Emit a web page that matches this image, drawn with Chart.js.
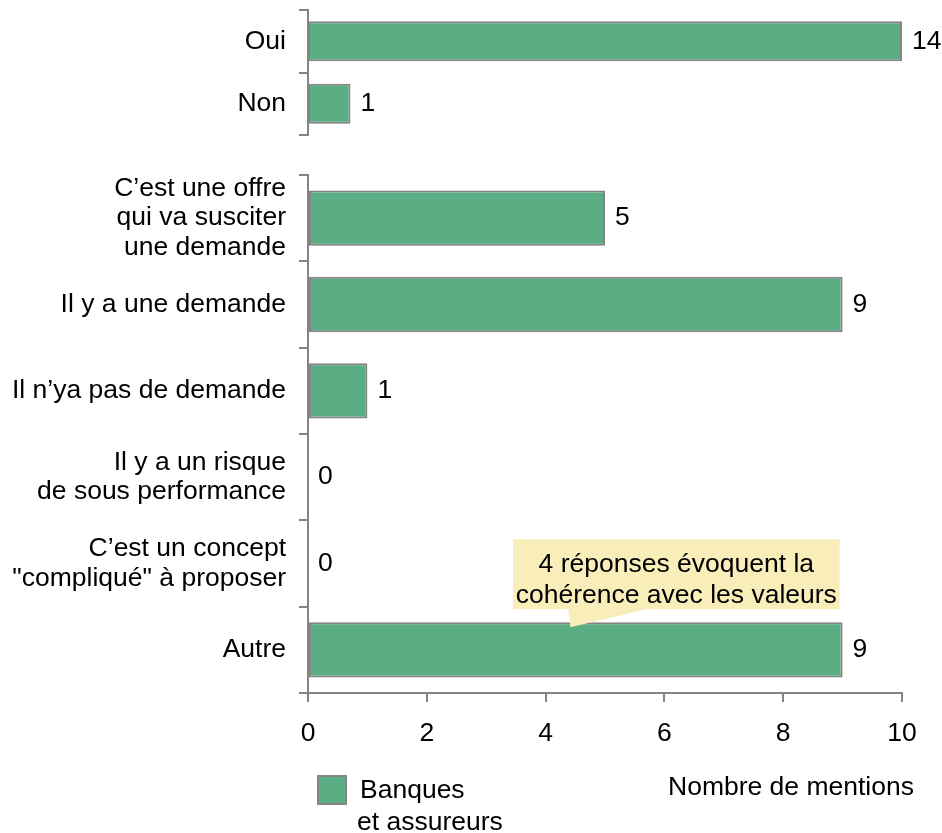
<!DOCTYPE html>
<html>
<head>
<meta charset="utf-8">
<script src="https://cdn.jsdelivr.net/npm/chart.js@4.4.0/dist/chart.umd.min.js"></script>
<style>
  body { margin: 0; background: #fff; }
  #wrap { position: relative; width: 942px; height: 833px; }
  #wrap canvas { position: absolute; left: 0; top: 0; }
</style>
</head>
<body>
<div id="wrap">
  <canvas id="bottomChart" width="942" height="833"></canvas>
  <canvas id="topChart" width="942" height="833"></canvas>
</div>
<script>
// data
var topLabels = ['Oui', 'Non'];
var topValues = [14, 1];
var bottomLabels = [
  ['C’est une offre', 'qui va susciter', 'une demande'],
  'Il y a une demande',
  'Il n’ya pas de demande',
  ['Il y a un risque', 'de sous performance'],
  ['C’est un concept', '"compliqué" à proposer'],
  'Autre'
];
var bottomValues = [5, 9, 1, 0, 0, 9];
var xMin = 0, xMax = 10, xStep = 2;
var seriesName = ['Banques', 'et assureurs'];
var axisTitle = 'Nombre de mentions';
var noteLines = ['4 réponses évoquent la', 'cohérence avec les valeurs'];

var FONT = "'Liberation Sans', Arial, sans-serif";
var FS = 26.5;
var GREEN = '#5BAD83';
var GREY = '#848484';

Chart.defaults.font.family = FONT;
Chart.defaults.font.size = FS;
Chart.defaults.color = '#000';

// value labels at the end of each bar
var valueLabels = {
  id: 'valueLabels',
  afterDatasetsDraw: function(chart) {
    var ctx = chart.ctx;
    var data = chart.data.datasets[0].data;
    ctx.save();
    ctx.font = FS + 'px ' + FONT;
    ctx.fillStyle = '#000';
    ctx.textAlign = 'left';
    ctx.textBaseline = 'middle';
    chart.getDatasetMeta(0).data.forEach(function(bar, i) {
      ctx.fillText(String(data[i]), bar.x + 10, bar.y);
    });
    ctx.restore();
  }
};

// yellow callout over the "Autre" bar
var note = {
  id: 'note',
  afterDatasetsDraw: function(chart) {
    var ctx = chart.ctx;
    var x = chart.scales.x;
    var bar = chart.getDatasetMeta(0).data[bottomLabels.length - 1];
    var barTop = bar.y - bar.height / 2;
    var left = x.getPixelForValue(3.45), right = x.getPixelForValue(8.95);
    var bottom = barTop - 13, top = bottom - 70;
    ctx.save();
    ctx.fillStyle = '#F9EDBA';
    ctx.fillRect(left, top, right - left, bottom - top);
    ctx.beginPath();
    ctx.moveTo(x.getPixelForValue(4.38), bottom - 1);
    ctx.lineTo(x.getPixelForValue(4.42), barTop + 5);
    ctx.lineTo(x.getPixelForValue(5.76), bottom - 1);
    ctx.closePath();
    ctx.fill();
    ctx.fillStyle = '#000';
    ctx.font = FS + 'px ' + FONT;
    ctx.textAlign = 'center';
    ctx.textBaseline = 'middle';
    ctx.fillText(noteLines[0], (left + right) / 2, top + 25);
    ctx.fillText(noteLines[1], (left + right) / 2, top + 56);
    ctx.restore();
  }
};

// legend + axis title under the chart
var footer = {
  id: 'footer',
  afterDraw: function(chart) {
    var ctx = chart.ctx;
    var ca = chart.chartArea;
    ctx.save();
    ctx.fillStyle = GREEN;
    ctx.strokeStyle = GREY;
    ctx.lineWidth = 2;
    ctx.fillRect(ca.left + 10, ca.bottom + 83, 28, 28);
    ctx.strokeRect(ca.left + 10, ca.bottom + 83, 28, 28);
    ctx.fillStyle = '#000';
    ctx.font = FS + 'px ' + FONT;
    ctx.textAlign = 'left';
    ctx.textBaseline = 'middle';
    ctx.fillText(seriesName[0], ca.left + 52, ca.bottom + 98);
    ctx.fillText(seriesName[1], ca.left + 49, ca.bottom + 130);
    ctx.fillText(axisTitle, 668, ca.bottom + 95);
    ctx.restore();
  }
};

function makeChart(id, labels, values, xOpts, pad, plugins) {
  return new Chart(document.getElementById(id), {
    type: 'bar',
    data: {
      labels: labels,
      datasets: [{
        data: values,
        backgroundColor: GREEN,
        borderColor: GREY,
        borderWidth: 2,
        borderSkipped: false,
        barPercentage: 0.8,
        categoryPercentage: 0.8
      }]
    },
    options: {
      indexAxis: 'y',
      responsive: false,
      animation: false,
      layout: { padding: pad },
      plugins: { legend: { display: false }, tooltip: { enabled: false } },
      scales: {
        x: xOpts,
        y: {
          afterFit: function(s) { s.width = 308; s.paddingTop = 0; s.paddingBottom = 0; },
          border: { display: true, color: GREY, width: 2 },
          grid: { display: true, drawOnChartArea: false, drawTicks: true, tickLength: 9, color: GREY, lineWidth: 2 },
          ticks: { autoSkip: false, padding: 13, color: '#000', font: { size: FS, lineHeight: 1.13 } }
        }
      }
    },
    plugins: plugins
  });
}

makeChart('topChart', topLabels, topValues, {
  display: false, min: 0, max: Math.max.apply(null, topValues)
}, { left: 0, top: 10, right: 40, bottom: 698 }, [valueLabels]);

makeChart('bottomChart', bottomLabels, bottomValues, {
  min: xMin, max: xMax,
  afterFit: function(s) { s.height = 60; s.paddingLeft = 0; s.paddingRight = 0; },
  border: { display: true, color: GREY, width: 2 },
  grid: { display: true, drawOnChartArea: false, drawTicks: true, tickLength: 9, color: GREY, lineWidth: 2 },
  ticks: { stepSize: xStep, padding: 16, color: '#000', maxRotation: 0 }
}, { left: 0, top: 175, right: 40, bottom: 80 }, [note, valueLabels, footer]);
</script>
</body>
</html>
